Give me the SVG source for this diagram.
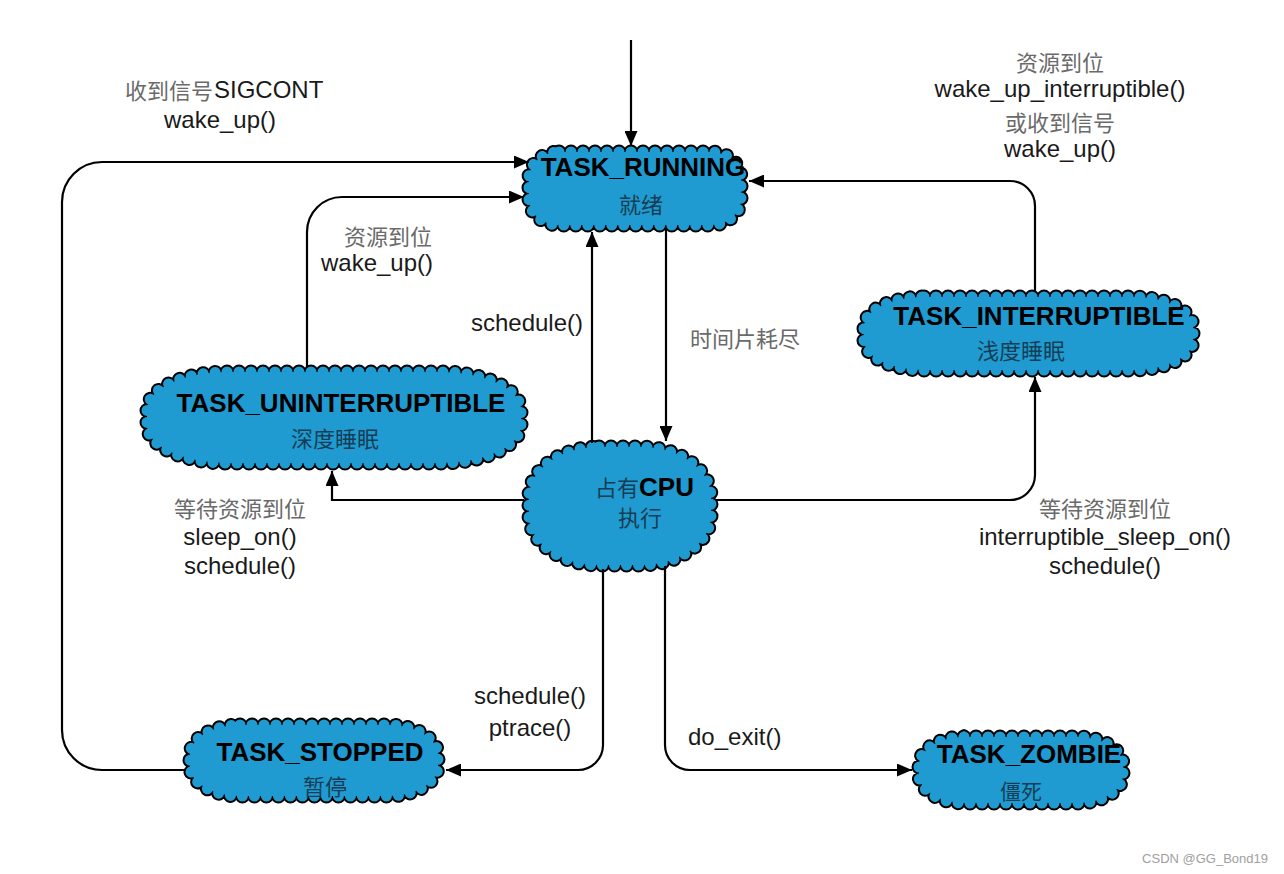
<svg xmlns="http://www.w3.org/2000/svg" xmlns:xlink="http://www.w3.org/1999/xlink" width="1284" height="874" viewBox="0 0 1284 874">
<style>
.cb{fill:none;stroke:#000;stroke-width:15;stroke-dasharray:0.01 11.99;stroke-linecap:round}
.cf{fill:#1f9bd1;stroke:none}
.cw{fill:none;stroke:#1f9bd1;stroke-width:11;stroke-dasharray:0.01 11.99;stroke-linecap:round}
.nt{font-family:"Liberation Sans",Arial,sans-serif;font-weight:bold;font-size:26px;fill:#000;text-anchor:middle}
.nc{font-family:"Noto Sans CJK SC","Liberation Sans",sans-serif;font-size:22px;fill:#163d55;text-anchor:middle}
.lt{font-family:"Liberation Sans","Noto Sans CJK SC",sans-serif;font-size:24px;fill:#1a1a1a;text-anchor:middle}
.lc{font-family:"Noto Sans CJK SC","Liberation Sans",sans-serif;font-size:22px;fill:#6a6a6a;text-anchor:middle}
.edge{fill:none;stroke:#000;stroke-width:2.2;marker-end:url(#ah)}
</style>
<defs>
<marker id="ah" markerUnits="userSpaceOnUse" markerWidth="15" markerHeight="13" refX="15" refY="6.5" orient="auto">
<path d="M0,0 L15,6.5 L0,13 z" fill="#000"/>
</marker>
<rect id="s-running" x="529" y="152" width="212" height="73" rx="30" ry="26"/>
<rect id="s-unint" x="147" y="372" width="374" height="91" rx="80" ry="38"/>
<rect id="s-int" x="864" y="297" width="329" height="73" rx="60" ry="30"/>
<rect id="s-cpu" x="529" y="447" width="182" height="118" rx="70" ry="50"/>
<rect id="s-stopped" x="190" y="725" width="248" height="71" rx="50" ry="30"/>
<rect id="s-zombie" x="919" y="737" width="204" height="66" rx="45" ry="28"/>
</defs>
<rect width="1284" height="874" fill="#fff"/>

<g id="node-running">
<use xlink:href="#s-running" class="cb"/><use xlink:href="#s-running" class="cf"/><use xlink:href="#s-running" class="cw"/>
<text class="nt" x="643" y="176">TASK_RUNNING</text>
<text class="nc" x="641" y="213">就绪</text>
</g>
<g id="node-uninterruptible">
<use xlink:href="#s-unint" class="cb"/><use xlink:href="#s-unint" class="cf"/><use xlink:href="#s-unint" class="cw"/>
<text class="nt" x="341" y="412">TASK_UNINTERRUPTIBLE</text>
<text class="nc" x="335" y="447">深度睡眠</text>
</g>
<g id="node-interruptible">
<use xlink:href="#s-int" class="cb"/><use xlink:href="#s-int" class="cf"/><use xlink:href="#s-int" class="cw"/>
<text class="nt" x="1039" y="325">TASK_INTERRUPTIBLE</text>
<text class="nc" x="1021" y="359">浅度睡眠</text>
</g>
<g id="node-cpu">
<use xlink:href="#s-cpu" class="cb"/><use xlink:href="#s-cpu" class="cf"/><use xlink:href="#s-cpu" class="cw"/>
<text x="595" y="496"><tspan class="nc" style="text-anchor:start">占有</tspan><tspan class="nt" style="text-anchor:start">CPU</tspan></text>
<text class="nc" x="640" y="526">执行</text>
</g>
<g id="node-stopped">
<use xlink:href="#s-stopped" class="cb"/><use xlink:href="#s-stopped" class="cf"/><use xlink:href="#s-stopped" class="cw"/>
<text class="nt" x="320" y="761">TASK_STOPPED</text>
<text class="nc" x="325" y="795">暂停</text>
</g>
<g id="node-zombie">
<use xlink:href="#s-zombie" class="cb"/><use xlink:href="#s-zombie" class="cf"/><use xlink:href="#s-zombie" class="cw"/>
<text class="nt" x="1029" y="763">TASK_ZOMBIE</text>
<text class="nc" x="1021" y="799" style="font-size:21px">僵死</text>
</g>

<g id="connectors">
<path class="edge" d="M631,40 V146"/>
<path class="edge" d="M186,770 H102 A40,40 0 0 1 62,730 V202 A40,40 0 0 1 102,162 H529"/>
<path class="edge" d="M307,367 V232 A35,35 0 0 1 342,197 H524"/>
<path class="edge" d="M592,443 V232"/>
<path class="edge" d="M666,230 V441"/>
<path class="edge" d="M1035,292 V206 A25,25 0 0 0 1010,181 H749"/>
<path class="edge" d="M524,500 H332 V471"/>
<path class="edge" d="M716,500 H1010 A25,25 0 0 0 1035,475 V377"/>
<path class="edge" d="M603,569 V745 A25,25 0 0 1 578,770 H446"/>
<path class="edge" d="M665,566 V745 A25,25 0 0 0 690,770 H912"/>
</g>

<g id="labels">
<text class="lc" x="125" y="99" style="text-anchor:start">收到信号</text>
<text class="lt" x="214" y="98" style="text-anchor:start">SIGCONT</text>
<text class="lt" x="220" y="128">wake_up()</text>
<text class="lc" x="388" y="245">资源到位</text>
<text class="lt" x="377" y="271">wake_up()</text>
<text class="lt" x="527" y="331">schedule()</text>
<text class="lc" x="690" y="347" style="text-anchor:start">时间片耗尽</text>
<text class="lc" x="1060" y="71">资源到位</text>
<text class="lt" x="1060" y="97">wake_up_interruptible()</text>
<text class="lc" x="1060" y="131">或收到信号</text>
<text class="lt" x="1060" y="157">wake_up()</text>
<text class="lc" x="240" y="517">等待资源到位</text>
<text class="lt" x="240" y="545">sleep_on()</text>
<text class="lt" x="240" y="574">schedule()</text>
<text class="lc" x="1105" y="517">等待资源到位</text>
<text class="lt" x="1105" y="545">interruptible_sleep_on()</text>
<text class="lt" x="1105" y="574">schedule()</text>
<text class="lt" x="530" y="704">schedule()</text>
<text class="lt" x="530" y="736">ptrace()</text>
<text class="lt" x="688" y="745" style="text-anchor:start">do_exit()</text>
<text x="1268" y="863" style="font-family:'Liberation Sans','Noto Sans CJK SC',sans-serif;font-size:13px;fill:#a0a0a0;text-anchor:end">CSDN @GG_Bond19</text>
</g>
</svg>
